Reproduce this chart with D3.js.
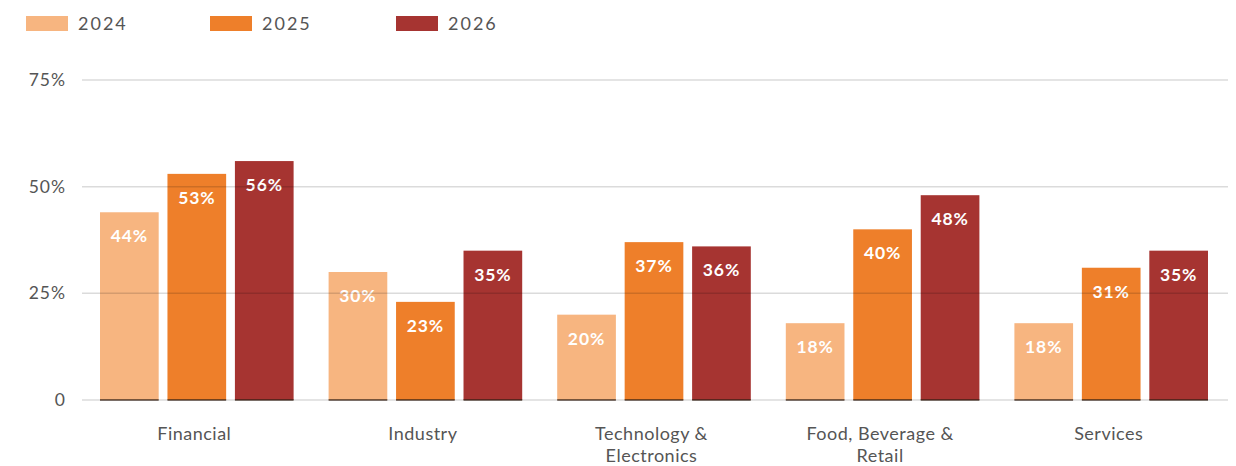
<!DOCTYPE html>
<html>
<head>
<meta charset="utf-8">
<script src="https://cdn.jsdelivr.net/npm/d3@7"></script>
<style>
  html, body { margin: 0; padding: 0; background: #fff; }
  svg { display: block; font-family: "Lato", "Open Sans", sans-serif; }
</style>
</head>
<body>
<svg id="chart" width="1236" height="466"></svg>
<script>
// Sector shares by year
const categories = [["Financial"], ["Industry"], ["Technology &", "Electronics"], ["Food, Beverage &", "Retail"], ["Services"]];
const years = ["2024", "2025", "2026"];
const values2024 = [44, 30, 20, 18, 18];
const values2025 = [53, 23, 37, 40, 31];
const values2026 = [56, 35, 36, 48, 35];
const yTicks = [0, 25, 50, 75];
const colors = ["#F7B580", "#EE7F2A", "#A63431"];

const seriesValues = [values2024, values2025, values2026];
const catKeys = categories.map(c => c.join(" "));

const svg = d3.select("#chart");
const plotLeft = 82, plotRight = 1228, plotTop = 80, plotBottom = 400;

const y = d3.scaleLinear().domain([0, 75]).range([plotBottom, plotTop]);
// Category bands span slightly less than the gridlines
const x0 = d3.scaleBand().domain(catKeys).range([plotLeft, plotRight - 3]).padding(0);
const x1 = d3.scaleBand().domain(years).range([18, x0.bandwidth() - 17]).paddingInner(0.13);

// Y tick labels
svg.append("g").selectAll("text").data(yTicks).join("text")
  .attr("x", 66).attr("y", d => y(d)).attr("dy", "0.35em")
  .attr("text-anchor", "end")
  .attr("font-size", 17.5).attr("fill", "#555")
  .attr("letter-spacing", 1)
  .text(d => d === 0 ? "0" : d + "%");

// Bars
const groups = svg.append("g").selectAll("g").data(catKeys).join("g")
  .attr("transform", d => `translate(${x0(d)},0)`);

groups.each(function(cat, ci) {
  const g = d3.select(this);
  years.forEach((yr, si) => {
    const v = seriesValues[si][ci];
    g.append("rect")
      .attr("x", x1(yr)).attr("y", y(v))
      .attr("width", x1.bandwidth()).attr("height", y(0) - y(v))
      .attr("fill", colors[si]);
  });
});

// Gridlines drawn over the bars, translucent
svg.append("g").selectAll("line").data(yTicks).join("line")
  .attr("x1", plotLeft).attr("x2", plotRight)
  .attr("y1", d => y(d)).attr("y2", d => y(d))
  .attr("stroke", "#000").attr("stroke-opacity", 0.14).attr("stroke-width", 1.5);

// Darker baseline under each bar
groups.each(function(cat) {
  const g = d3.select(this);
  years.forEach(yr => {
    g.append("line")
      .attr("x1", x1(yr)).attr("x2", x1(yr) + x1.bandwidth())
      .attr("y1", y(0)).attr("y2", y(0))
      .attr("stroke", "#3a2418").attr("stroke-opacity", 0.6).attr("stroke-width", 2);
  });
});

// Value labels inside bars
groups.each(function(cat, ci) {
  const g = d3.select(this);
  years.forEach((yr, si) => {
    const v = seriesValues[si][ci];
    g.append("text")
      .attr("x", x1(yr) + x1.bandwidth() / 2).attr("y", y(v) + 30)
      .attr("text-anchor", "middle")
      .attr("font-size", 17.5).attr("font-weight", 700).attr("fill", "#fff")
      .attr("letter-spacing", 0.9)
      .text(v + "%");
  });
});

// Category labels
const xl = svg.append("g").selectAll("text").data(categories).join("text")
  .attr("x", (d, i) => x0(catKeys[i]) + x0.bandwidth() / 2 - 2)
  .attr("y", 440)
  .attr("text-anchor", "middle")
  .attr("font-size", 18).attr("fill", "#555").attr("letter-spacing", 0.5);
xl.selectAll("tspan").data(d => d).join("tspan")
  .attr("x", function() { return d3.select(this.parentNode).attr("x"); })
  .attr("dy", (d, i) => i === 0 ? 0 : 22)
  .text(d => d);

// Legend
const legendX = [26, 210, 396];
const legend = svg.append("g").selectAll("g").data(years).join("g")
  .attr("transform", (d, i) => `translate(${legendX[i]},16)`);
legend.append("rect").attr("width", 42).attr("height", 15).attr("fill", (d, i) => colors[i]);
legend.append("text")
  .attr("x", 52).attr("y", 8).attr("dy", "0.35em")
  .attr("font-size", 18).attr("fill", "#555").attr("letter-spacing", 2)
  .text(d => d);
</script>
</body>
</html>
